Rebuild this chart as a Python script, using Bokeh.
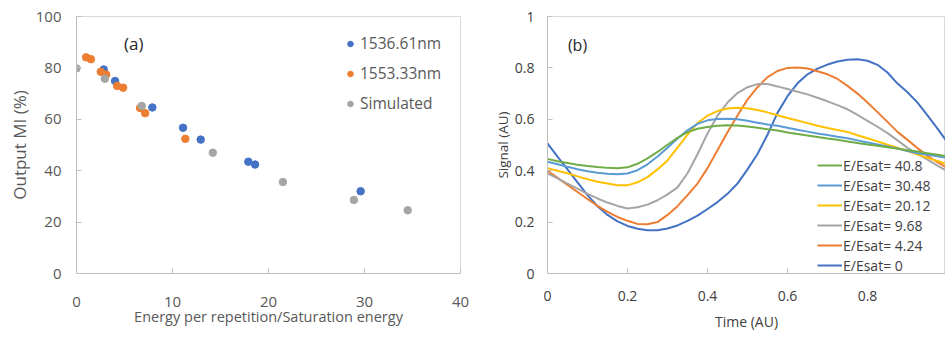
from bokeh.plotting import figure
from bokeh.layouts import row
from bokeh.models import Legend, LegendItem, Label, FixedTicker, Range1d, NumeralTickFormatter
from bokeh.embed import file_html
from bokeh.resources import INLINE

FONT = "Open Sans"

# ---------------- Panel (a) data ----------------
x_1536 = [2.84, 4.02, 7.9, 11.1, 12.94, 17.9, 18.6, 29.6]
y_1536 = [79.4, 74.9, 64.6, 56.7, 52.1, 43.5, 42.4, 32.0]
x_1553 = [1.0, 1.5, 2.53, 3.09, 4.23, 4.86, 6.62, 7.15, 11.34]
y_1553 = [84.1, 83.4, 78.5, 77.4, 73.0, 72.3, 64.4, 62.4, 52.4]
x_sim = [0.0, 2.95, 6.8, 14.2, 21.5, 28.9, 34.5]
y_sim = [79.8, 75.8, 65.2, 47.0, 35.6, 28.6, 24.6]
a_xticks = [0, 10, 20, 30, 40]
a_yticks = [0, 20, 40, 60, 80, 100]

# ---------------- Panel (b) data ----------------
t = [0.0, 0.025, 0.05, 0.075, 0.1, 0.125, 0.15, 0.175, 0.2, 0.225,
     0.25, 0.275, 0.3, 0.325, 0.35, 0.375, 0.4, 0.425, 0.45, 0.475,
     0.5, 0.525, 0.55, 0.575, 0.6, 0.625, 0.65, 0.675, 0.7, 0.725,
     0.75, 0.775, 0.8, 0.825, 0.85, 0.875, 0.9, 0.925, 0.95, 0.975, 1.0]
s_0 = [0.506, 0.455, 0.405, 0.355, 0.305, 0.262, 0.228, 0.203, 0.185, 0.174,
       0.168, 0.168, 0.175, 0.187, 0.205, 0.225, 0.251, 0.278, 0.31, 0.35,
       0.405, 0.465, 0.54, 0.625, 0.69, 0.74, 0.775, 0.797, 0.813, 0.825,
       0.832, 0.834, 0.828, 0.812, 0.782, 0.739, 0.705, 0.665, 0.615, 0.564, 0.51]
s_424 = [0.40, 0.372, 0.345, 0.317, 0.29, 0.263, 0.24, 0.22, 0.205, 0.193,
         0.192, 0.2, 0.228, 0.262, 0.305, 0.35, 0.41, 0.48, 0.55, 0.615,
         0.677, 0.725, 0.764, 0.788, 0.80, 0.802, 0.798, 0.787, 0.775, 0.757,
         0.73, 0.70, 0.665, 0.628, 0.59, 0.551, 0.52, 0.488, 0.458, 0.433, 0.41]
s_968 = [0.39, 0.37, 0.35, 0.33, 0.31, 0.292, 0.276, 0.263, 0.253, 0.258,
         0.268, 0.285, 0.308, 0.335, 0.39, 0.464, 0.545, 0.614, 0.665, 0.702,
         0.725, 0.737, 0.737, 0.728, 0.718, 0.707, 0.697, 0.684, 0.67, 0.655,
         0.639, 0.617, 0.594, 0.571, 0.546, 0.518, 0.489, 0.465, 0.443, 0.42, 0.398]
s_2012 = [0.41, 0.40, 0.39, 0.378, 0.367, 0.357, 0.35, 0.343, 0.343, 0.355,
          0.375, 0.405, 0.44, 0.49, 0.54, 0.585, 0.614, 0.632, 0.642, 0.645,
          0.643, 0.636, 0.627, 0.616, 0.605, 0.595, 0.585, 0.575, 0.566, 0.558,
          0.551, 0.538, 0.526, 0.514, 0.501, 0.489, 0.476, 0.463, 0.45, 0.438, 0.425]
s_3048 = [0.435, 0.425, 0.415, 0.406, 0.398, 0.392, 0.388, 0.386, 0.389, 0.402,
          0.425, 0.455, 0.489, 0.525, 0.557, 0.582, 0.596, 0.601, 0.602, 0.60,
          0.594, 0.587, 0.58, 0.575, 0.567, 0.559, 0.552, 0.545, 0.539, 0.532,
          0.526, 0.518, 0.51, 0.502, 0.494, 0.486, 0.477, 0.468, 0.462, 0.456, 0.45]
s_408 = [0.446, 0.437, 0.43, 0.423, 0.418, 0.414, 0.411, 0.41, 0.413, 0.427,
         0.448, 0.473, 0.501, 0.528, 0.55, 0.563, 0.57, 0.575, 0.577, 0.576,
         0.572, 0.567, 0.561, 0.556, 0.549, 0.543, 0.537, 0.531, 0.525, 0.52,
         0.514, 0.508, 0.502, 0.497, 0.491, 0.486, 0.48, 0.475, 0.468, 0.462, 0.456]
b_series = [("E/Esat= 0", s_0, "#4472C4"),
            ("E/Esat= 4.24", s_424, "#ED7D31"),
            ("E/Esat= 9.68", s_968, "#A5A5A5"),
            ("E/Esat= 20.12", s_2012, "#FFC000"),
            ("E/Esat= 30.48", s_3048, "#5B9BD5"),
            ("E/Esat= 40.8", s_408, "#70AD47")]
b_xticks = [0, 0.2, 0.4, 0.6, 0.8, 1.0]
b_yticks = [0, 0.2, 0.4, 0.6, 0.8, 1.0]


def style(p, tick_size, tick_color, title_sizes, title_color):
    p.xgrid.visible = False
    p.ygrid.visible = False
    p.outline_line_color = "#D9D9D9"
    p.background_fill_color = "white"
    for ax in p.axis:
        ax.axis_line_color = "#BFBFBF"
        ax.major_tick_line_color = "#BFBFBF"
        ax.major_tick_in = 5
        ax.major_tick_out = 0
        ax.minor_tick_line_color = None
        ax.major_label_text_font = FONT
        ax.major_label_text_font_size = tick_size
        ax.major_label_text_color = tick_color
        ax.axis_label_text_font = FONT
        ax.axis_label_text_font_style = "normal"
        ax.axis_label_text_color = title_color
    p.xaxis.axis_label_text_font_size = title_sizes[0]
    p.yaxis.axis_label_text_font_size = title_sizes[1]


# ---------------- Figure (a) ----------------
p1 = figure(width=488, height=337, x_range=Range1d(0, 40), y_range=Range1d(0, 100),
            output_backend="svg", toolbar_location=None,
            min_border_left=76, min_border_right=28, min_border_top=16, min_border_bottom=64)
style(p1, "15px", "#595959", ("14.5px", "17px"), "#595959")
p1.xaxis.ticker = FixedTicker(ticks=a_xticks)
p1.yaxis.ticker = FixedTicker(ticks=a_yticks)
p1.xaxis.axis_label = "Energy per repetition/Saturation energy"
p1.yaxis.axis_label = "Output MI (%)"
p1.xaxis.major_label_standoff = 23
p1.xaxis.axis_label_standoff = -3
p1.yaxis.major_label_standoff = 15
p1.yaxis.axis_label_standoff = 2

r_b = p1.scatter(x_1536, y_1536, size=7.5, color="#4472C4")
r_o = p1.scatter(x_1553, y_1553, size=7.5, color="#ED7D31")
r_g = p1.scatter(x_sim, y_sim, size=7.5, color="#A5A5A5")

leg1 = Legend(items=[LegendItem(label="1536.61nm", renderers=[r_b]),
                     LegendItem(label="1553.33nm", renderers=[r_o]),
                     LegendItem(label="Simulated", renderers=[r_g])],
              location=(267, 159), padding=0, margin=0, spacing=8,
              glyph_width=14, glyph_height=21, label_height=21, label_standoff=3,
              label_text_font=FONT, label_text_font_size="15.5px", label_text_color="#595959",
              border_line_alpha=0, background_fill_alpha=0)
p1.add_layout(leg1)
p1.add_layout(Label(x=5.96, y=89.3, text="(a)", text_align="center", text_baseline="middle",
                    text_font=FONT, text_font_size="17px", text_color="#262626"))

# ---------------- Figure (b) ----------------
p2 = figure(width=457, height=337, x_range=Range1d(0, 0.995), y_range=Range1d(0, 1),
            output_backend="svg", toolbar_location=None,
            min_border_left=59, min_border_right=0, min_border_top=14, min_border_bottom=57)
style(p2, "14px", "#404040", ("14px", "13.5px"), "#404040")
p2.xaxis.ticker = FixedTicker(ticks=b_xticks)
p2.yaxis.ticker = FixedTicker(ticks=b_yticks)
p2.xaxis.formatter = NumeralTickFormatter(format="0.[0]")
p2.yaxis.formatter = NumeralTickFormatter(format="0.[0]")
p2.xaxis.axis_label = "Time (AU)"
p2.yaxis.axis_label = "Signal (AU)"
p2.xaxis.major_label_standoff = 17
p2.xaxis.axis_label_standoff = 8
p2.yaxis.major_label_standoff = 13
p2.yaxis.axis_label_standoff = 0

renderers = {}
for name, ys, col in b_series:
    renderers[name] = p2.line(t, ys, line_color=col, line_width=2)

order = ["E/Esat= 40.8", "E/Esat= 30.48", "E/Esat= 20.12", "E/Esat= 9.68", "E/Esat= 4.24", "E/Esat= 0"]
leg2 = Legend(items=[LegendItem(label=n, renderers=[renderers[n]]) for n in order],
              location=(270, -2), padding=0, margin=0, spacing=0,
              glyph_width=25, glyph_height=20, label_height=20, label_standoff=1,
              label_text_font=FONT, label_text_font_size="14px", label_text_color="#404040",
              border_line_alpha=0, background_fill_alpha=0)
p2.add_layout(leg2)
p2.add_layout(Label(x=0.075, y=0.89, text="(b)", text_align="center", text_baseline="middle",
                    text_font=FONT, text_font_size="16px", text_color="#262626"))

layout = row(p1, p2)
open("out.html", "w").write(file_html(layout, INLINE))
